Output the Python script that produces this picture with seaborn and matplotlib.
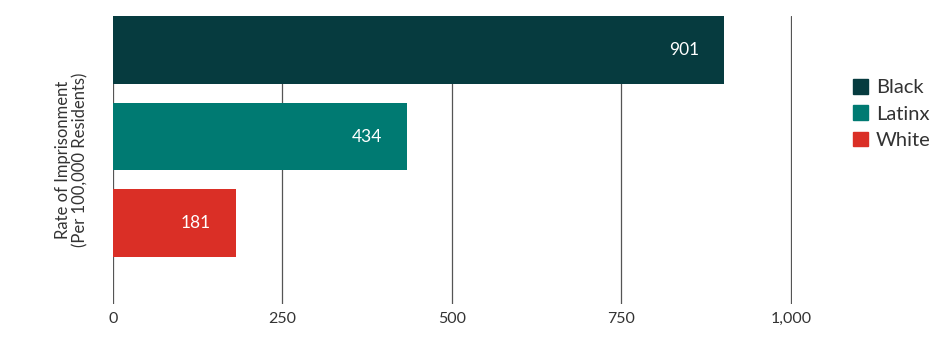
import matplotlib
matplotlib.use("Agg")
import matplotlib.pyplot as plt
import seaborn as sns
import pandas as pd

groups = ["Black", "Latinx", "White"]
rates = [901, 434, 181]
colors = ["#063B3F", "#007A72", "#DA2F26"]
xticks = [0, 250, 500, 750, 1000]
xtick_labels = ["0", "250", "500", "750", "1,000"]

sns.set_style("white")
plt.rcParams["font.family"] = ["Lato", "DejaVu Sans"]

df = pd.DataFrame({"group": groups, "rate": rates})

fig = plt.figure(figsize=(9.5, 3.51), dpi=100)
ax = fig.add_axes([113 / 950, 1 - 304 / 351, (792 - 113) / 950, (304 - 16) / 351])

sns.barplot(data=df, x="rate", y="group", hue="group", order=groups,
            hue_order=groups, palette=colors, dodge=False, width=0.78,
            saturation=1, linewidth=0, legend=True, ax=ax, zorder=3)

ax.set_xlim(0, 1001.5)
ax.set_ylim(2.93, -0.39)
ax.set_xticks(xticks)
ax.set_xticklabels(xtick_labels, fontsize=11.5, color="#333333")
ax.set_yticks([])
ax.set_ylabel("Rate of Imprisonment\n(Per 100,000 Residents)", fontsize=12,
              color="#333333", labelpad=18, linespacing=1.1)
ax.set_xlabel("")
ax.tick_params(axis="x", length=0, pad=6)
ax.set_axisbelow(True)
ax.grid(axis="x", color="#555555", linewidth=0.9)
ax.grid(axis="y", visible=False)
for s in ax.spines.values():
    s.set_visible(False)

for cont in ax.containers:
    texts = ax.bar_label(cont, labels=[f"{v:.0f}" for v in cont.datavalues],
                         padding=-18, color="white", fontsize=12.5)
    for t in texts:
        t.set_ha("right")

handles = [plt.Rectangle((0, 0), 1, 1, color=c) for c in colors]
ax.legend(handles, groups, loc="upper left", bbox_to_anchor=(1.078, 0.81),
          frameon=False, fontsize=14.5, handlelength=0.75, handleheight=0.75,
          handletextpad=0.4, labelspacing=0.45, borderaxespad=0,
          labelcolor="#333333")

fig.savefig("out.png", dpi=100)
